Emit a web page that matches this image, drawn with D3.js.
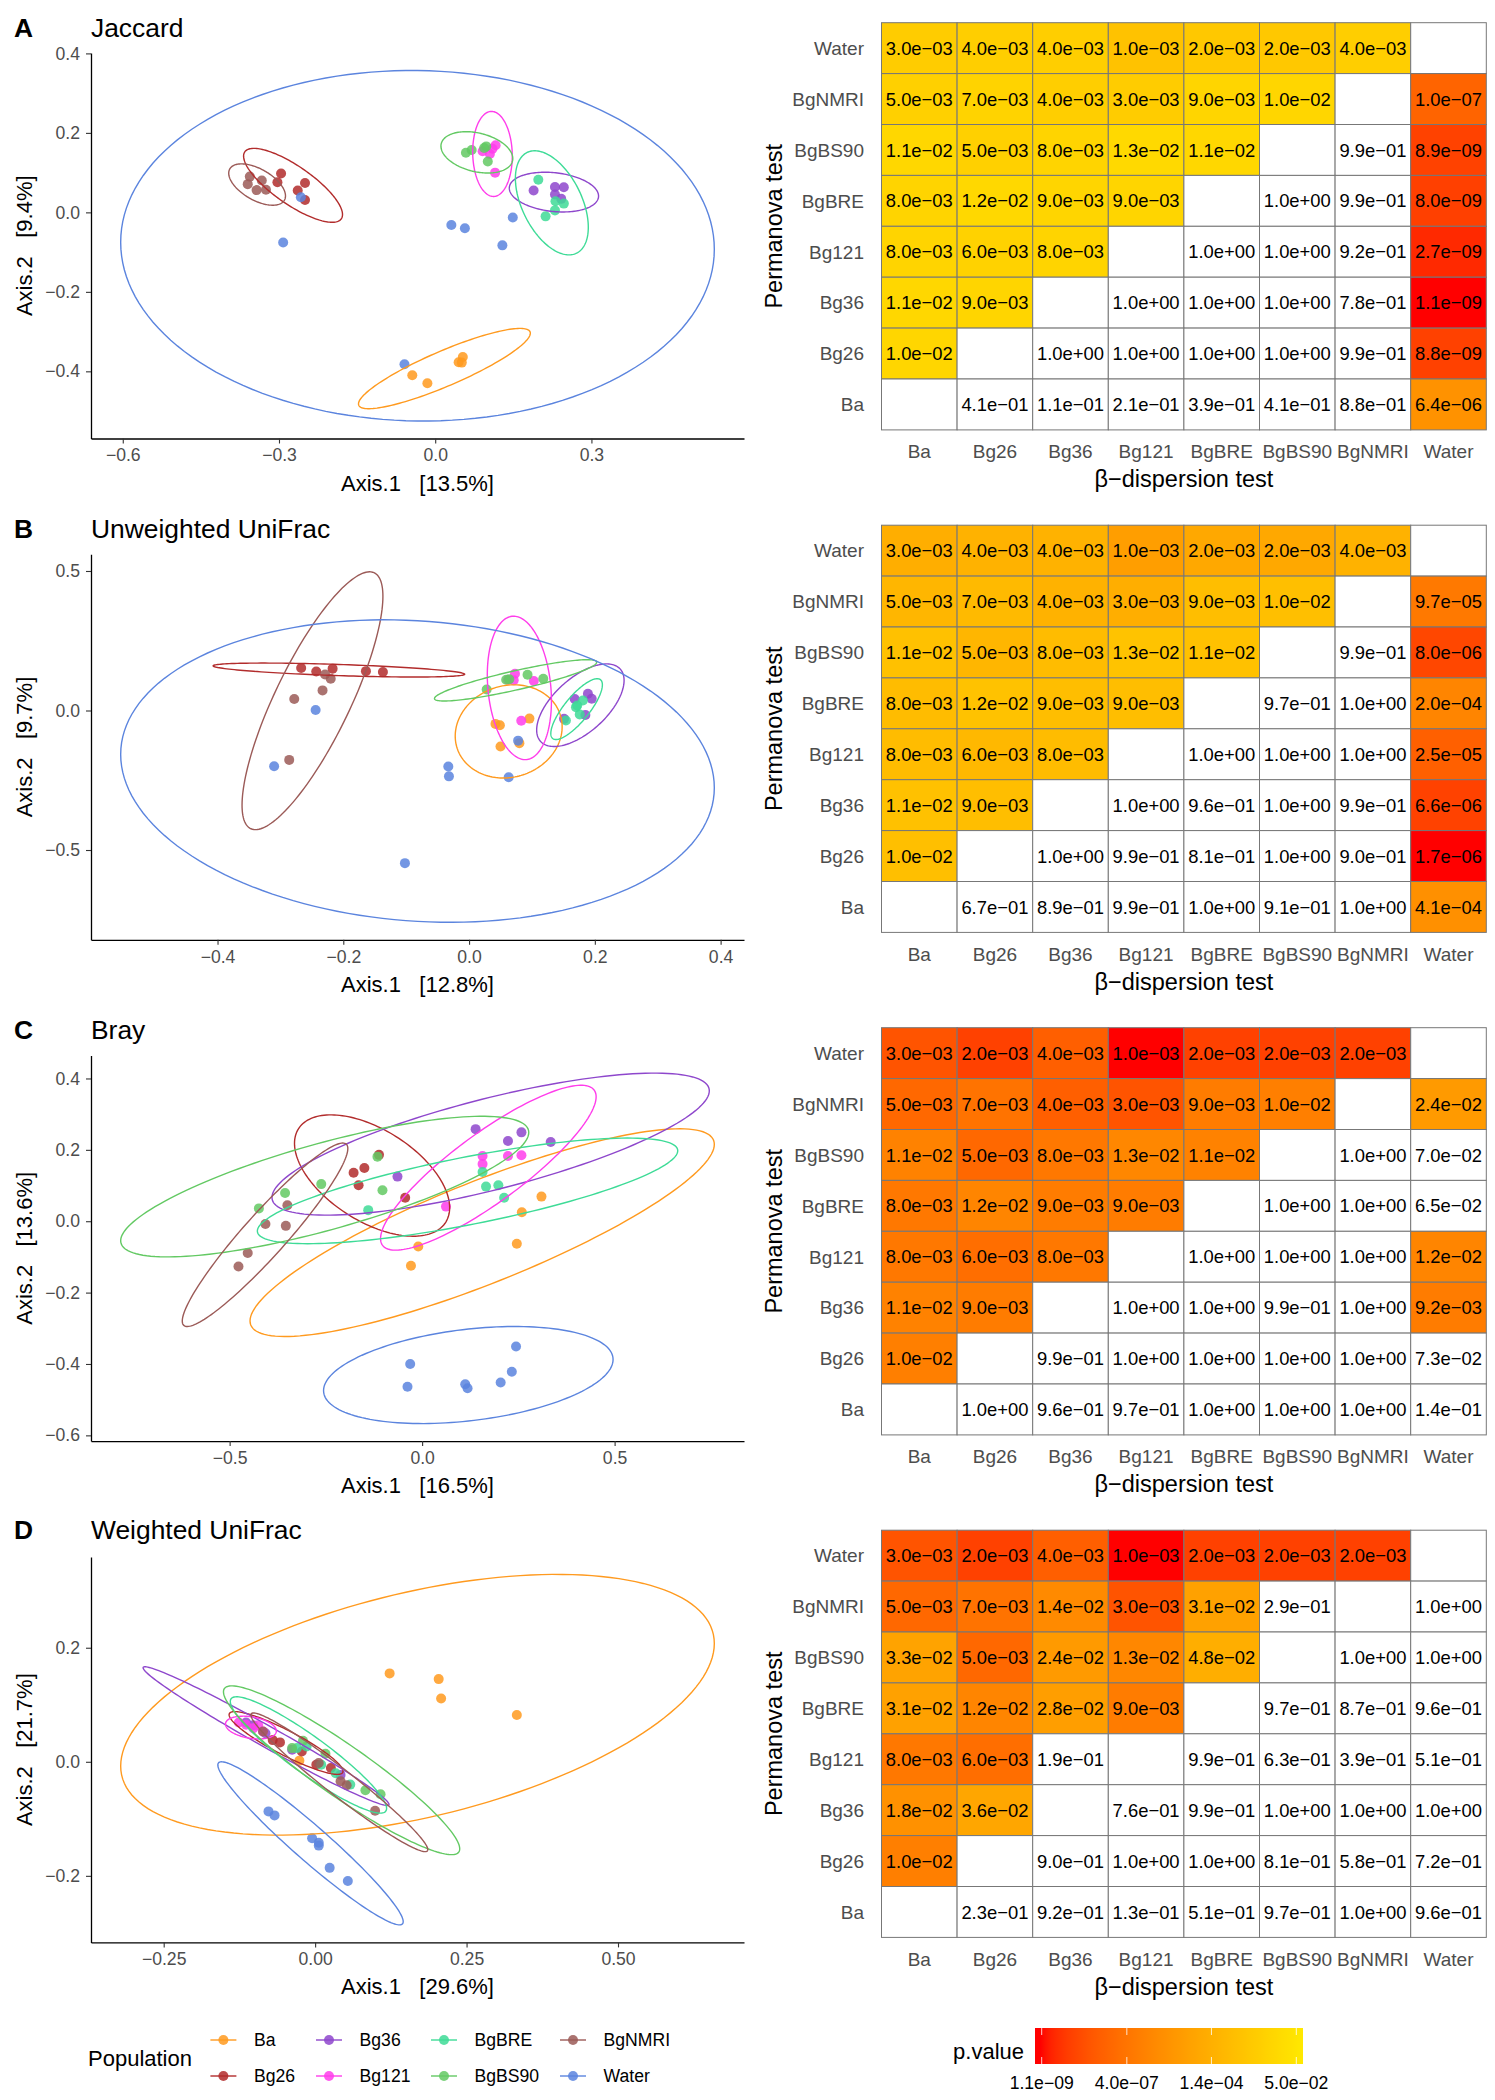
<!DOCTYPE html>
<html><head><meta charset="utf-8">
<script src="https://cdn.jsdelivr.net/npm/d3@7"></script>
<style>
body{margin:0;background:#fff}
text{font-family:"Liberation Sans",Arial,Helvetica,sans-serif}
</style>
</head><body>
<svg id="c" width="1495" height="2100" xmlns="http://www.w3.org/2000/svg"></svg>
<script>
// ---------------- DATA ----------------
const groups = ["Ba","Bg26","Bg36","Bg121","BgBRE","BgBS90","BgNMRI","Water"];
const groupColors = ["#FF9A1F","#B22C2C","#8E47CC","#FF3DEB","#3EDB97","#63C963","#9B5A57","#5B84DE"];
const panelLetters = ["A","B","C","D"];
const panelTitles = ["Jaccard","Unweighted UniFrac","Bray","Weighted UniFrac"];
const axis1Pct = ["13.5%","12.8%","16.5%","29.6%"];
const axis2Pct = ["9.4%","9.7%","13.6%","21.7%"];
const xTicksJaccard = [-0.6,-0.3,0,0.3];
const yTicksJaccard = [-0.4,-0.2,0,0.2,0.4];
const xTicksUnweighted = [-0.4,-0.2,0,0.2,0.4];
const yTicksUnweighted = [-0.5,0,0.5];
const xTicksBray = [-0.5,0,0.5];
const yTicksBray = [-0.6,-0.4,-0.2,0,0.2,0.4];
const xTicksWeighted = [-0.25,0,0.25,0.5];
const yTicksWeighted = [-0.2,0,0.2];

// points: [group, Axis.1, Axis.2]
const pointsJaccard = [
 ["Ba",-0.044,-0.410],["Ba",-0.015,-0.430],["Ba",0.045,-0.377],["Ba",0.051,-0.378],["Ba",0.053,-0.364],
 ["Bg26",-0.296,0.098],["Bg26",-0.303,0.076],["Bg26",-0.250,0.074],["Bg26",-0.264,0.055],["Bg26",-0.250,0.031],
 ["Bg36",0.189,0.055],["Bg36",0.230,0.064],["Bg36",0.247,0.063],["Bg36",0.230,0.045],["Bg36",0.242,0.034],
 ["Bg121",0.091,0.154],["Bg121",0.105,0.147],["Bg121",0.116,0.169],["Bg121",0.110,0.160],["Bg121",0.115,0.100],
 ["BgBRE",0.198,0.082],["BgBRE",0.231,0.028],["BgBRE",0.247,0.022],["BgBRE",0.230,0.005],["BgBRE",0.212,-0.010],
 ["BgBS90",0.059,0.150],["BgBS90",0.070,0.157],["BgBS90",0.098,0.166],["BgBS90",0.101,0.128],["BgBS90",0.094,0.162],
 ["BgNMRI",-0.356,0.090],["BgNMRI",-0.360,0.071],["BgNMRI",-0.333,0.080],["BgNMRI",-0.343,0.056],["BgNMRI",-0.325,0.057],
 ["Water",-0.258,0.038],["Water",-0.292,-0.076],["Water",0.031,-0.032],["Water",0.057,-0.040],["Water",0.149,-0.013],["Water",0.129,-0.083],["Water",-0.059,-0.382]
];
const pointsUnweighted = [
 ["Ba",0.042,-0.048],["Ba",0.049,-0.053],["Ba",0.096,-0.029],["Ba",0.050,-0.129],["Ba",0.080,-0.117],
 ["Bg26",-0.267,0.152],["Bg26",-0.243,0.140],["Bg26",-0.217,0.150],["Bg26",-0.164,0.141],["Bg26",-0.137,0.138],
 ["Bg36",0.168,0.041],["Bg36",0.189,0.060],["Bg36",0.195,0.042],["Bg36",0.185,-0.016],["Bg36",0.151,-0.030],
 ["Bg121",0.073,0.132],["Bg121",0.071,0.108],["Bg121",0.103,0.106],["Bg121",0.083,-0.037],["Bg121",0.062,0.110],
 ["BgBRE",0.154,-0.036],["BgBRE",0.172,0.018],["BgBRE",0.181,0.036],["BgBRE",0.176,-0.014],["BgBRE",0.170,0.012],
 ["BgBS90",0.028,0.075],["BgBS90",0.059,0.110],["BgBS90",0.093,0.128],["BgBS90",0.118,0.114],["BgBS90",0.064,0.112],
 ["BgNMRI",-0.229,0.129],["BgNMRI",-0.220,0.114],["BgNMRI",-0.233,0.072],["BgNMRI",-0.278,0.041],["BgNMRI",-0.286,-0.177],
 ["Water",-0.244,0.002],["Water",-0.310,-0.200],["Water",-0.033,-0.201],["Water",-0.032,-0.236],["Water",0.063,-0.239],["Water",0.078,-0.108],["Water",-0.102,-0.547]
];
const pointsBray = [
 ["Ba",-0.010,-0.071],["Ba",-0.029,-0.125],["Ba",0.246,-0.063],["Ba",0.259,0.025],["Ba",0.310,0.069],
 ["Bg26",-0.178,0.136],["Bg26",-0.150,0.149],["Bg26",-0.165,0.101],["Bg26",-0.112,0.186],["Bg26",-0.044,0.066],
 ["Bg36",0.139,0.258],["Bg36",0.223,0.225],["Bg36",0.258,0.249],["Bg36",0.334,0.222],["Bg36",-0.064,0.125],
 ["Bg121",0.157,0.183],["Bg121",0.157,0.160],["Bg121",0.223,0.183],["Bg121",0.258,0.185],["Bg121",0.062,0.041],
 ["BgBRE",0.157,0.138],["BgBRE",0.166,0.097],["BgBRE",0.198,0.101],["BgBRE",0.213,0.066],["BgBRE",-0.140,0.031],
 ["BgBS90",-0.424,0.036],["BgBS90",-0.356,0.079],["BgBS90",-0.262,0.104],["BgBS90",-0.116,0.181],["BgBS90",-0.103,0.087],
 ["BgNMRI",-0.350,0.045],["BgNMRI",-0.407,-0.008],["BgNMRI",-0.354,-0.013],["BgNMRI",-0.453,-0.089],["BgNMRI",-0.477,-0.127],
 ["Water",-0.031,-0.400],["Water",-0.038,-0.464],["Water",0.112,-0.457],["Water",0.118,-0.468],["Water",0.204,-0.452],["Water",0.233,-0.422],["Water",0.244,-0.351]
];
const pointsWeighted = [
 ["Ba",0.123,0.155],["Ba",0.204,0.145],["Ba",0.208,0.111],["Ba",0.333,0.082],["Ba",-0.026,0.002],
 ["Bg26",-0.070,0.038],["Bg26",-0.058,0.034],["Bg26",-0.022,0.018],["Bg26",0.002,-0.005],["Bg26",0.026,-0.011],
 ["Bg36",-0.114,0.069],["Bg36",-0.102,0.064],["Bg36",-0.082,0.050],["Bg36",-0.038,0.021],["Bg36",0.042,-0.023],
 ["Bg121",-0.126,0.069],["Bg121",-0.114,0.065],["Bg121",-0.102,0.059],["Bg121",-0.086,0.053],["Bg121",-0.094,0.064],
 ["BgBRE",-0.030,0.024],["BgBRE",-0.014,0.027],["BgBRE",0.010,-0.005],["BgBRE",0.034,-0.020],["BgBRE",0.058,-0.040],
 ["BgBS90",-0.020,0.037],["BgBS90",0.017,0.014],["BgBS90",0.083,-0.050],["BgBS90",0.108,-0.057],["BgBS90",-0.038,0.024],
 ["BgNMRI",-0.086,0.053],["BgNMRI",0.006,-0.002],["BgNMRI",0.042,-0.034],["BgNMRI",0.052,-0.041],["BgNMRI",0.099,-0.086],
 ["Water",-0.077,-0.087],["Water",-0.067,-0.094],["Water",-0.005,-0.134],["Water",0.006,-0.142],["Water",0.006,-0.147],["Water",0.024,-0.186],["Water",0.054,-0.209]
];

// ellipses: [group, centre x, centre y, half-extent x, half-extent y, correlation]
const ellipsesJaccard = [
 ["Ba",0.0177,-0.393,0.165,0.101,0.88],["Bg26",-0.273,0.068,0.095,0.093,-0.79],
 ["Bg36",0.228,0.051,0.0857,0.050,-0.2],["Bg121",0.110,0.147,0.038,0.107,-0.05],
 ["BgBRE",0.224,0.024,0.070,0.131,-0.47],["BgBS90",0.080,0.151,0.069,0.052,-0.3],
 ["BgNMRI",-0.342,0.070,0.0545,0.052,-0.55],["Water",-0.034,-0.084,0.570,0.441,-0.02]
];
const ellipsesUnweighted = [
 ["Ba",0.063,-0.075,0.085,0.167,0.1],["Bg26",-0.207,0.145,0.200,0.025,-0.6],
 ["Bg36",0.177,0.019,0.0695,0.148,0.6],["Bg121",0.080,0.081,0.051,0.257,-0.18],
 ["BgBRE",0.171,0.005,0.041,0.109,0.8],["BgBS90",0.074,0.108,0.129,0.074,0.88],
 ["BgNMRI",-0.249,0.035,0.112,0.462,0.81],["Water",-0.082,-0.217,0.472,0.542,-0.11]
];
const ellipsesBray = [
 ["Ba",0.156,-0.032,0.603,0.291,0.85],["Bg26",-0.130,0.128,0.2015,0.170,-0.53],
 ["Bg36",0.178,0.216,0.568,0.199,0.75],["Bg121",0.172,0.150,0.280,0.231,0.86],
 ["BgBRE",0.118,0.085,0.546,0.148,0.76],["BgBS90",-0.253,0.097,0.530,0.197,0.77],
 ["BgNMRI",-0.408,-0.038,0.215,0.257,0.94],["Water",0.120,-0.431,0.376,0.136,0.32]
];
const ellipsesWeighted = [
 ["Ba",0.169,0.100,0.490,0.2286,0.47],["Bg26",-0.048,0.033,0.094,0.055,-0.9],
 ["Bg36",-0.081,0.045,0.203,0.1216,-0.985],["Bg121",-0.106,0.060,0.042,0.020,-0.3],
 ["BgBRE",-0.011,0.012,0.129,0.102,-0.92],["BgBS90",0.0437,-0.0149,0.195,0.148,-0.93],
 ["BgNMRI",0.040,-0.036,0.146,0.1216,-0.97],["Water",-0.0076,-0.143,0.153,0.143,-0.96]
];

// p-value matrices, rows from top (Water) to bottom (Ba), columns Ba..Water
const pvalJaccard = [
 [3.0e-03,4.0e-03,4.0e-03,1.0e-03,2.0e-03,2.0e-03,4.0e-03,null],
 [5.0e-03,7.0e-03,4.0e-03,3.0e-03,9.0e-03,1.0e-02,null,1.0e-07],
 [1.1e-02,5.0e-03,8.0e-03,1.3e-02,1.1e-02,null,9.9e-01,8.9e-09],
 [8.0e-03,1.2e-02,9.0e-03,9.0e-03,null,1.0e+00,9.9e-01,8.0e-09],
 [8.0e-03,6.0e-03,8.0e-03,null,1.0e+00,1.0e+00,9.2e-01,2.7e-09],
 [1.1e-02,9.0e-03,null,1.0e+00,1.0e+00,1.0e+00,7.8e-01,1.1e-09],
 [1.0e-02,null,1.0e+00,1.0e+00,1.0e+00,1.0e+00,9.9e-01,8.8e-09],
 [null,4.1e-01,1.1e-01,2.1e-01,3.9e-01,4.1e-01,8.8e-01,6.4e-06]
];
const pvalUnweighted = [
 [3.0e-03,4.0e-03,4.0e-03,1.0e-03,2.0e-03,2.0e-03,4.0e-03,null],
 [5.0e-03,7.0e-03,4.0e-03,3.0e-03,9.0e-03,1.0e-02,null,9.7e-05],
 [1.1e-02,5.0e-03,8.0e-03,1.3e-02,1.1e-02,null,9.9e-01,8.0e-06],
 [8.0e-03,1.2e-02,9.0e-03,9.0e-03,null,9.7e-01,1.0e+00,2.0e-04],
 [8.0e-03,6.0e-03,8.0e-03,null,1.0e+00,1.0e+00,1.0e+00,2.5e-05],
 [1.1e-02,9.0e-03,null,1.0e+00,9.6e-01,1.0e+00,9.9e-01,6.6e-06],
 [1.0e-02,null,1.0e+00,9.9e-01,8.1e-01,1.0e+00,9.0e-01,1.7e-06],
 [null,6.7e-01,8.9e-01,9.9e-01,1.0e+00,9.1e-01,1.0e+00,4.1e-04]
];
const pvalBray = [
 [3.0e-03,2.0e-03,4.0e-03,1.0e-03,2.0e-03,2.0e-03,2.0e-03,null],
 [5.0e-03,7.0e-03,4.0e-03,3.0e-03,9.0e-03,1.0e-02,null,2.4e-02],
 [1.1e-02,5.0e-03,8.0e-03,1.3e-02,1.1e-02,null,1.0e+00,7.0e-02],
 [8.0e-03,1.2e-02,9.0e-03,9.0e-03,null,1.0e+00,1.0e+00,6.5e-02],
 [8.0e-03,6.0e-03,8.0e-03,null,1.0e+00,1.0e+00,1.0e+00,1.2e-02],
 [1.1e-02,9.0e-03,null,1.0e+00,1.0e+00,9.9e-01,1.0e+00,9.2e-03],
 [1.0e-02,null,9.9e-01,1.0e+00,1.0e+00,1.0e+00,1.0e+00,7.3e-02],
 [null,1.0e+00,9.6e-01,9.7e-01,1.0e+00,1.0e+00,1.0e+00,1.4e-01]
];
const pvalWeighted = [
 [3.0e-03,2.0e-03,4.0e-03,1.0e-03,2.0e-03,2.0e-03,2.0e-03,null],
 [5.0e-03,7.0e-03,1.4e-02,3.0e-03,3.1e-02,2.9e-01,null,1.0e+00],
 [3.3e-02,5.0e-03,2.4e-02,1.3e-02,4.8e-02,null,1.0e+00,1.0e+00],
 [3.1e-02,1.2e-02,2.8e-02,9.0e-03,null,9.7e-01,8.7e-01,9.6e-01],
 [8.0e-03,6.0e-03,1.9e-01,null,9.9e-01,6.3e-01,3.9e-01,5.1e-01],
 [1.8e-02,3.6e-02,null,7.6e-01,9.9e-01,1.0e+00,1.0e+00,1.0e+00],
 [1.0e-02,null,9.0e-01,1.0e+00,1.0e+00,8.1e-01,5.8e-01,7.2e-01],
 [null,2.3e-01,9.2e-01,1.3e-01,5.1e-01,9.7e-01,1.0e+00,9.6e-01]
];
const legendBreaks = [1.1e-09,4.0e-07,1.4e-04,5.0e-02];
const sigThreshold = 0.05;

// ---------------- DRAWING ----------------
const svg = d3.select("#c");
svg.append("rect").attr("width",1495).attr("height",2100).attr("fill","#fff");
const colorOf = d3.scaleOrdinal().domain(groups).range(groupColors);
const FS_TICK = 17.6, FS_TITLE = 22, FS_HEAD = 26.4;
const FS_HM_TICK = 19, FS_HM_TITLE = 23.5, FS_CELL = 18.4;

function fmtP(v){
  const [m,e] = v.toExponential(1).split("e");
  const n = +e;
  return m + "e" + (n<0 ? "\u2212" : "+") + String(Math.abs(n)).padStart(2,"0");
}
function ellipsePts(e, n){
  const [, cx, cy, hx, hy, r] = e;
  const s = Math.sqrt(1 - r*r);
  return d3.range(n+1).map(k => {
    const t = 2*Math.PI*k/n;
    return [cx + hx*Math.cos(t), cy + hy*(r*Math.cos(t) + s*Math.sin(t))];
  });
}

const scatterSets = [
  {pts:pointsJaccard, ell:ellipsesJaccard, xt:xTicksJaccard, yt:yTicksJaccard, xf:".1f", yf:".1f"},
  {pts:pointsUnweighted, ell:ellipsesUnweighted, xt:xTicksUnweighted, yt:yTicksUnweighted, xf:".1f", yf:".1f"},
  {pts:pointsBray, ell:ellipsesBray, xt:xTicksBray, yt:yTicksBray, xf:".1f", yf:".1f"},
  {pts:pointsWeighted, ell:ellipsesWeighted, xt:xTicksWeighted, yt:yTicksWeighted, xf:".2f", yf:".1f"}
];
const heatSets = [pvalJaccard, pvalUnweighted, pvalBray, pvalWeighted];

const SC_LEFT = 91, SC_RIGHT = 744, SC_TOP0 = 53, SC_H = 385.5, SC_STEP = 501.3;
const HM_LEFT = 881.5, HM_CELLW = 75.6, HM_CELLH = 50.9, HM_TOP0 = 22.7, HM_STEP = 502.5;
const TITLE_Y0 = 37.3, TITLE_STEP = 500.7;

let panelAColor = null;

scatterSets.forEach((S, i) => {
  const top = SC_TOP0 + i*SC_STEP, bottom = top + SC_H;
  const ellPaths = S.ell.map(e => ({g:e[0], pts: ellipsePts(e, 160)}));
  const allX = [], allY = [];
  ellPaths.forEach(p => p.pts.forEach(q => {allX.push(q[0]); allY.push(q[1]);}));
  S.pts.forEach(p => {allX.push(p[1]); allY.push(p[2]);});
  const [x0,x1] = d3.extent(allX), [y0,y1] = d3.extent(allY);
  const px = (x1-x0)*0.05, py = (y1-y0)*0.05;
  const x = d3.scaleLinear().domain([x0-px, x1+px]).range([SC_LEFT, SC_RIGHT]);
  const y = d3.scaleLinear().domain([y0-py, y1+py]).range([bottom, top]);
  const g = svg.append("g");

  const ty = TITLE_Y0 + i*TITLE_STEP;
  g.append("text").attr("x",14).attr("y",ty).attr("font-size",FS_HEAD).attr("font-weight","bold").text(panelLetters[i]);
  g.append("text").attr("x",SC_LEFT).attr("y",ty).attr("font-size",FS_HEAD).text(panelTitles[i]);

  g.append("g").selectAll("circle").data(S.pts).join("circle")
    .attr("cx", d => x(d[1])).attr("cy", d => y(d[2])).attr("r", 5)
    .attr("fill", d => colorOf(d[0])).attr("fill-opacity", 0.85);
  const line = d3.line().x(d => x(d[0])).y(d => y(d[1])).curve(d3.curveLinearClosed);
  g.append("g").selectAll("path").data(ellPaths).join("path")
    .attr("d", d => line(d.pts.slice(0,-1))).attr("fill","none")
    .attr("stroke", d => colorOf(d.g)).attr("stroke-width", 1.4);

  const ax = g.append("g").attr("transform",`translate(0,${bottom})`)
    .call(d3.axisBottom(x).tickValues(S.xt).tickFormat(d3.format(S.xf)).tickSize(5).tickPadding(5.3).tickSizeOuter(0));
  const ay = g.append("g").attr("transform",`translate(${SC_LEFT},0)`)
    .call(d3.axisLeft(y).tickValues(S.yt).tickFormat(d3.format(S.yf)).tickSize(5).tickPadding(6).tickSizeOuter(0));
  [ax, ay].forEach(a => {
    a.select(".domain").attr("stroke","#000").attr("stroke-width",1.3);
    a.selectAll(".tick line").attr("stroke","#333").attr("stroke-width",1.1);
    a.selectAll(".tick text").attr("font-size",FS_TICK).attr("fill","#4d4d4d")
      .attr("font-family",'"Liberation Sans",Arial,sans-serif');
  });
  g.append("text").attr("x",(SC_LEFT+SC_RIGHT)/2).attr("y",bottom+52)
    .attr("text-anchor","middle").attr("font-size",FS_TITLE)
    .text("Axis.1\u00a0\u00a0\u00a0[" + axis1Pct[i] + "]");
  g.append("text").attr("transform",`translate(32,${(top+bottom)/2}) rotate(-90)`)
    .attr("text-anchor","middle").attr("font-size",FS_TITLE)
    .text("Axis.2\u00a0\u00a0\u00a0[" + axis2Pct[i] + "]");
});

heatSets.forEach((M, i) => {
  const top = HM_TOP0 + i*HM_STEP;
  const rowsTop = groups.slice().reverse();
  const x = d3.scaleBand().domain(groups).range([HM_LEFT, HM_LEFT + 8*HM_CELLW]);
  const y = d3.scaleBand().domain(rowsTop).range([top, top + 8*HM_CELLH]);
  const cells = [];
  M.forEach((row, r) => row.forEach((v, c) => cells.push({row: rowsTop[r], col: groups[c], v})));
  const vals = cells.filter(d => d.v != null).map(d => d.v);
  const color = d3.scaleLog().domain(d3.extent(vals)).range(["red","yellow"]).interpolate(d3.interpolateLab).clamp(true);
  if (i === 0) panelAColor = color;
  const g = svg.append("g");
  g.selectAll("rect").data(cells).join("rect")
    .attr("x", d => x(d.col)).attr("y", d => y(d.row))
    .attr("width", x.bandwidth()).attr("height", y.bandwidth())
    .attr("fill", d => (d.v != null && d.v < sigThreshold) ? color(d.v) : "#fff")
    .attr("stroke", "#777").attr("stroke-width", 1);
  g.selectAll("text.cell").data(cells.filter(d => d.v != null)).join("text")
    .attr("class","cell")
    .attr("x", d => x(d.col) + x.bandwidth()/2).attr("y", d => y(d.row) + y.bandwidth()/2)
    .attr("dy","0.36em").attr("text-anchor","middle").attr("font-size",FS_CELL).attr("fill","#000")
    .text(d => fmtP(d.v));
  g.selectAll("text.yl").data(rowsTop).join("text").attr("class","yl")
    .attr("x", HM_LEFT - 17.5).attr("y", d => y(d) + y.bandwidth()/2).attr("dy","0.36em")
    .attr("text-anchor","end").attr("font-size",FS_HM_TICK).attr("fill","#4d4d4d").text(d => d);
  const bottom = top + 8*HM_CELLH;
  g.selectAll("text.xl").data(groups).join("text").attr("class","xl")
    .attr("x", d => x(d) + x.bandwidth()/2).attr("y", bottom + 28.5)
    .attr("text-anchor","middle").attr("font-size",FS_HM_TICK).attr("fill","#4d4d4d").text(d => d);
  g.append("text").attr("x", HM_LEFT + 4*HM_CELLW).attr("y", bottom + 57.5)
    .attr("text-anchor","middle").attr("font-size",FS_HM_TITLE).text("\u03b2\u2212dispersion test");
  g.append("text").attr("transform",`translate(782,${top + 4*HM_CELLH}) rotate(-90)`)
    .attr("text-anchor","middle").attr("font-size",FS_HM_TITLE).text("Permanova test");
});

// ---- Population legend ----
const leg = svg.append("g");
leg.append("text").attr("x",88).attr("y",2058).attr("dy","0.36em").attr("font-size",FS_TITLE).text("Population");
const legColX = [223.4, 329, 444, 573];
const legRowY = [2040, 2076];
groups.forEach((gname, k) => {
  const col = Math.floor(k/2), row = k % 2;
  const cx = legColX[col], cy = legRowY[row];
  leg.append("line").attr("x1",cx-13).attr("x2",cx+13).attr("y1",cy).attr("y2",cy)
    .attr("stroke",colorOf(gname)).attr("stroke-width",1.4);
  leg.append("circle").attr("cx",cx).attr("cy",cy).attr("r",5).attr("fill",colorOf(gname)).attr("fill-opacity",0.85);
  leg.append("text").attr("x",cx+30.6).attr("y",cy).attr("dy","0.36em").attr("font-size",FS_TICK).text(gname);
});

// ---- p.value colourbar ----
const CB_L = 1035, CB_R = 1303, CB_T = 2028, CB_B = 2064, inset = (CB_R-CB_L)*0.025;
const cbScale = d3.scaleLog().domain([legendBreaks[0], legendBreaks[legendBreaks.length-1]]).range([CB_L+inset, CB_R-inset]);
const defs = svg.append("defs");
const grad = defs.append("linearGradient").attr("id","cbgrad").attr("x1","0%").attr("x2","100%");
d3.range(0, 1.0001, 0.02).forEach(f => {
  const v = cbScale.invert(CB_L + f*(CB_R-CB_L));
  grad.append("stop").attr("offset", (f*100)+"%").attr("stop-color", panelAColor(v));
});
svg.append("rect").attr("x",CB_L).attr("y",CB_T).attr("width",CB_R-CB_L).attr("height",CB_B-CB_T).attr("fill","url(#cbgrad)");
legendBreaks.forEach(b => {
  const bx = cbScale(b);
  svg.append("line").attr("x1",bx).attr("x2",bx).attr("y1",CB_T).attr("y2",CB_T+7).attr("stroke","#fff").attr("stroke-opacity",0.8).attr("stroke-width",1);
  svg.append("line").attr("x1",bx).attr("x2",bx).attr("y1",CB_B-7).attr("y2",CB_B).attr("stroke","#fff").attr("stroke-opacity",0.8).attr("stroke-width",1);
  svg.append("text").attr("x",bx).attr("y",2083).attr("dy","0.36em").attr("text-anchor","middle")
    .attr("font-size",FS_TICK).text(fmtP(b));
});
svg.append("text").attr("x",1024).attr("y",2051).attr("dy","0.36em").attr("text-anchor","end").attr("font-size",FS_TITLE).text("p.value");
</script>
</body></html>
